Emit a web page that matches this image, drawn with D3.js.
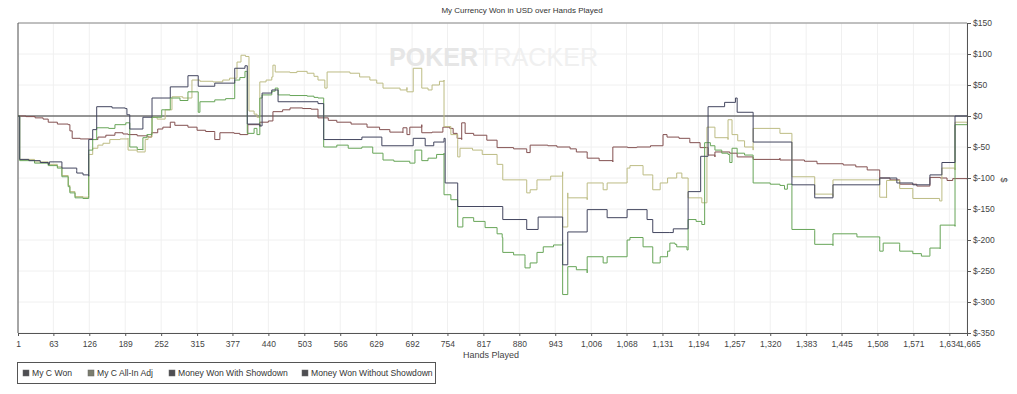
<!DOCTYPE html>
<html>
<head>
<meta charset="utf-8">
<script src="https://cdn.jsdelivr.net/npm/d3@7"></script>
<style>
  body { margin: 0; background: #fff; }
  svg { font-family: "Liberation Sans", Arial, sans-serif; }
  .axis path, .axis line { stroke: #555; }
  .axis text { fill: #444; font-size: 8.5px; }
</style>
</head>
<body>
<svg id="chart"></svg>
<script>
// hand ticks as printed on the chart
const xTicks = [1, 63, 126, 189, 252, 315, 377, 440, 503, 566, 629, 692, 754, 817, 880, 943, 1006, 1068, 1131, 1194, 1257, 1320, 1383, 1445, 1508, 1571, 1634, 1665];
const yTicks = [-350, -300, -250, -200, -150, -100, -50, 0, 50, 100, 150];

const seriesNames = ["My C Won", "My C All-In Adj", "Money Won With Showdown", "Money Won Without Showdown"];
const seriesColors = ["#43465f", "#bdbc84", "#67a558", "#835050"];

// [hand, $]
const myCWon = [[1,0],[4,-70],[20,-72],[40,-75],[54,-78],[56,-74],[78,-74],[78,-84],[104,-88],[104,-92],[115,-95],[125,-97],[125,-38],[132,-22],[139,15],[166,13],[189,12],[192,2],[197,-21],[220,-21],[220,-2],[236,29],[268,47],[299,65],[317,48],[346,53],[381,77],[399,81],[403,-13],[425,-16],[429,37],[446,42],[457,23],[490,23],[527,20],[537,-38],[604,-34],[639,-48],[694,-36],[715,-48],[730,-42],[748,-36],[750,-108],[772,-146],[851,-146],[851,-167],[893,-183],[913,-163],[956,-240],[965,-187],[999,-151],[1034,-164],[1069,-151],[1104,-167],[1114,-188],[1144,-188],[1150,-182],[1176,-122],[1198,-65],[1211,15],[1240,22],[1259,29],[1262,6],[1290,-42],[1358,-111],[1398,-132],[1430,-111],[1512,-100],[1542,-108],[1570,-111],[1600,-95],[1621,-75],[1644,0],[1665,0]];

const allInAdj = [[1,0],[4,-70],[30,-74],[54,-78],[70,-82],[78,-85],[78,-96],[89,-112],[92,-122],[101,-130],[115,-131],[125,-128],[125,-62],[132,-52],[141,-47],[150,-44],[162,-38],[180,-37],[194,-36],[194,-55],[210,-58],[224,-57],[224,-38],[229,-34],[236,-2],[245,-5],[259,10],[271,31],[290,29],[306,58],[320,56],[343,55],[360,58],[372,61],[385,87],[392,98],[400,96],[406,8],[415,3],[420,-2],[425,55],[436,58],[446,63],[448,82],[452,71],[478,70],[490,72],[508,69],[520,64],[527,58],[539,45],[543,71],[583,69],[600,63],[618,58],[630,53],[641,45],[671,42],[683,46],[683,39],[694,77],[709,77],[709,45],[720,42],[727,50],[740,56],[748,58],[748,-17],[760,-30],[772,-38],[772,-66],[776,-52],[798,-55],[815,-62],[841,-71],[841,-78],[851,-87],[851,-103],[893,-108],[893,-124],[899,-119],[911,-114],[911,-103],[935,-97],[956,-90],[956,-179],[965,-124],[965,-132],[999,-135],[999,-108],[1027,-114],[1027,-119],[1034,-108],[1069,-104],[1069,-84],[1074,-80],[1097,-82],[1097,-95],[1114,-98],[1114,-119],[1127,-108],[1140,-100],[1156,-92],[1165,-100],[1176,-108],[1176,-132],[1200,-140],[1209,-18],[1223,-22],[1223,-35],[1246,-38],[1246,-6],[1253,-30],[1263,-40],[1275,-50],[1290,-55],[1290,-20],[1337,-22],[1337,-28],[1358,-34],[1358,-98],[1398,-98],[1398,-126],[1430,-130],[1430,-103],[1512,-100],[1512,-131],[1524,-132],[1524,-104],[1547,-108],[1547,-117],[1570,-119],[1570,-133],[1617,-137],[1621,-84],[1644,-87],[1644,-10],[1665,-12]];

const withShowdown = [[1,0],[4,-72],[30,-76],[54,-80],[70,-84],[78,-87],[78,-98],[89,-114],[92,-124],[101,-132],[115,-133],[125,-128],[125,-55],[132,-38],[139,-19],[160,-20],[171,-14],[190,-11],[197,-11],[197,-50],[210,-54],[220,-55],[220,-35],[227,-30],[236,-2],[253,10],[268,29],[285,25],[299,39],[317,39],[317,6],[320,23],[346,26],[365,28],[381,58],[390,62],[399,72],[403,-28],[415,-20],[420,-30],[425,29],[429,34],[446,40],[452,45],[457,34],[478,33],[508,32],[520,30],[527,29],[537,-50],[560,-47],[580,-52],[604,-50],[623,-60],[641,-71],[660,-73],[688,-76],[697,-55],[709,-72],[720,-68],[735,-62],[748,-60],[748,-127],[760,-135],[772,-146],[772,-179],[781,-164],[800,-170],[820,-180],[841,-190],[850,-196],[851,-220],[870,-224],[890,-227],[890,-245],[899,-237],[911,-220],[922,-211],[940,-208],[956,-204],[956,-288],[965,-243],[980,-248],[999,-253],[999,-227],[1027,-237],[1034,-227],[1069,-200],[1074,-196],[1097,-211],[1114,-237],[1127,-227],[1140,-218],[1144,-205],[1153,-207],[1156,-211],[1174,-216],[1176,-167],[1190,-170],[1200,-175],[1205,-43],[1215,-48],[1223,-55],[1235,-60],[1246,-62],[1249,-75],[1253,-52],[1262,-60],[1275,-63],[1290,-66],[1290,-108],[1320,-110],[1337,-112],[1345,-118],[1350,-110],[1358,-112],[1358,-183],[1398,-185],[1398,-207],[1430,-209],[1430,-190],[1472,-195],[1512,-199],[1512,-218],[1518,-205],[1547,-207],[1547,-218],[1570,-222],[1585,-226],[1600,-225],[1600,-213],[1618,-214],[1618,-176],[1644,-178],[1644,-14],[1665,-13]];

const withoutShowdown = [[1,0],[15,-1],[31,-3],[45,-5],[54,-10],[70,-13],[89,-14],[92,-24],[96,-36],[110,-37],[131,-38],[141,-34],[155,-31],[171,-27],[185,-29],[194,-30],[210,-32],[229,-34],[235,-27],[246,-21],[255,-18],[268,-19],[268,-10],[276,-10],[276,-15],[299,-18],[315,-23],[330,-25],[346,-27],[346,-38],[355,-38],[355,-27],[380,-28],[390,-30],[404,-29],[404,-14],[425,-17],[425,-10],[440,-8],[448,7],[465,10],[478,13],[500,12],[515,11],[527,5],[527,-3],[545,-7],[560,-10],[585,-13],[613,-18],[635,-22],[653,-26],[676,-27],[676,-19],[683,-19],[683,-30],[688,-28],[688,-18],[709,-14],[709,-27],[727,-26],[746,-24],[746,-18],[758,-20],[764,-28],[771,-36],[779,-38],[779,-11],[785,-11],[785,-28],[800,-31],[823,-34],[823,-39],[841,-42],[841,-51],[870,-53],[893,-55],[893,-59],[899,-59],[899,-47],[930,-48],[946,-50],[969,-53],[980,-58],[999,-63],[999,-68],[1020,-72],[1044,-74],[1044,-50],[1070,-51],[1086,-50],[1110,-48],[1132,-47],[1132,-30],[1139,-34],[1160,-36],[1179,-38],[1179,-43],[1197,-51],[1211,-58],[1211,-63],[1223,-66],[1223,-58],[1249,-60],[1262,-66],[1290,-70],[1337,-68],[1337,-71],[1355,-71],[1380,-73],[1402,-74],[1402,-77],[1448,-79],[1470,-82],[1490,-84],[1490,-87],[1512,-87],[1512,-100],[1530,-103],[1547,-103],[1547,-110],[1577,-113],[1600,-111],[1600,-99],[1618,-100],[1630,-104],[1640,-101],[1665,-102]];

const width = 1017;
const height = 394;
const plotLeft = 18, plotRight = 967, plotTop = 23, plotBottom = 333;

const svg = d3.select("#chart").attr("width", width).attr("height", height);

const x = d3.scaleLinear().domain([1, 1665]).range([plotLeft, plotRight]);
const y = d3.scaleLinear().domain([-350, 150]).range([plotBottom, plotTop]);

// ==================== grid =====================
svg.append("g")
    .selectAll("line")
    .data(xTicks)
    .enter()
    .append("line")
    .attr("x1", d => x(d)).attr("x2", d => x(d))
    .attr("y1", plotTop).attr("y2", plotBottom)
    .attr("stroke", "#f0f0f0");

svg.append("g")
    .selectAll("line")
    .data(yTicks)
    .enter()
    .append("line")
    .attr("x1", plotLeft).attr("x2", plotRight)
    .attr("y1", d => y(d)).attr("y2", d => y(d))
    .attr("stroke", "#f0f0f0");

// watermark
const wm = svg.append("text")
    .attr("x", 389).attr("y", 66)
    .attr("font-size", 25)
    .attr("font-weight", "bold")
    .attr("textLength", 209)
    .attr("lengthAdjust", "spacingAndGlyphs");
wm.append("tspan").attr("fill", "#e6e6e6").text("POKER");
wm.append("tspan").attr("fill", "#f0f0f0").attr("font-weight", "normal").text("TRACKER");

// top border + zero line
svg.append("line")
    .attr("x1", plotLeft).attr("x2", plotRight)
    .attr("y1", plotTop).attr("y2", plotTop)
    .attr("stroke", "#888");

svg.append("line")
    .attr("x1", plotLeft).attr("x2", plotRight)
    .attr("y1", y(0)).attr("y2", y(0))
    .attr("stroke", "#333").attr("stroke-width", 1.1);

// ==================== lines =====================
const line = d3.line()
    .x(d => x(d[0]))
    .y(d => y(d[1]))
    .curve(d3.curveStepAfter);

const drawOrder = [
    {data: withoutShowdown, color: seriesColors[3]},
    {data: allInAdj, color: seriesColors[1]},
    {data: withShowdown, color: seriesColors[2]},
    {data: myCWon, color: seriesColors[0]}
];

svg.append("g")
    .selectAll("path")
    .data(drawOrder)
    .enter()
    .append("path")
    .attr("d", d => line(d.data))
    .attr("fill", "none")
    .attr("stroke", d => d.color)
    .attr("stroke-width", 1);

// ==================== axes =====================
svg.append("line")
    .attr("x1", plotLeft).attr("x2", plotLeft)
    .attr("y1", plotTop).attr("y2", plotBottom)
    .attr("stroke", "#555");

svg.append("g")
    .attr("class", "axis")
    .attr("transform", `translate(0,${plotBottom})`)
    .call(d3.axisBottom(x).tickValues(xTicks).tickSize(3).tickSizeOuter(0).tickFormat(d3.format(",")))
    .call(g => g.selectAll("text").attr("dy", "0.9em"))
    // last label sits on top of 1,634 in the original; nudge it a bit
    .call(g => g.selectAll(".tick").filter(d => d === 1665).select("text").attr("x", 2.5));

svg.append("g")
    .attr("class", "axis")
    .attr("transform", `translate(${plotRight},0)`)
    .call(d3.axisRight(y).tickValues(yTicks).tickSize(4).tickSizeOuter(0).tickFormat(d => "$" + d))
    .call(g => g.selectAll("text").attr("x", 6));

// titles
svg.append("text")
    .attr("x", 522).attr("y", 13)
    .attr("text-anchor", "middle")
    .attr("font-size", 8)
    .attr("fill", "#333")
    .text("My Currency Won in USD over Hands Played");

svg.append("text")
    .attr("x", 491).attr("y", 358)
    .attr("text-anchor", "middle")
    .attr("font-size", 9)
    .attr("fill", "#444")
    .text("Hands Played");

svg.append("text")
    .attr("transform", "translate(1001,180) rotate(90)")
    .attr("text-anchor", "middle")
    .attr("font-size", 9)
    .attr("fill", "#444")
    .text("$");

// ==================== legend =====================
const legend = svg.append("g");
legend.append("rect")
    .attr("x", 17.5).attr("y", 362.5)
    .attr("width", 418).attr("height", 21)
    .attr("fill", "#fff")
    .attr("stroke", "#555");

const legendX = [23, 88, 169, 302];
const items = legend.selectAll("g.item")
    .data(seriesNames)
    .enter()
    .append("g")
    .attr("class", "item")
    .attr("transform", (d, i) => `translate(${legendX[i]},373)`);

items.append("rect")
    .attr("x", 0).attr("y", -3)
    .attr("width", 6).attr("height", 6)
    .attr("fill", (d, i) => i === 1 ? "#7b7d6e" : "#4e4e52")
    .attr("stroke", "#666")
    .attr("stroke-width", 0.5);

items.append("text")
    .attr("x", 9).attr("y", 3)
    .attr("font-size", 8.6)
    .attr("fill", "#333")
    .text(d => d);
</script>
</body>
</html>
